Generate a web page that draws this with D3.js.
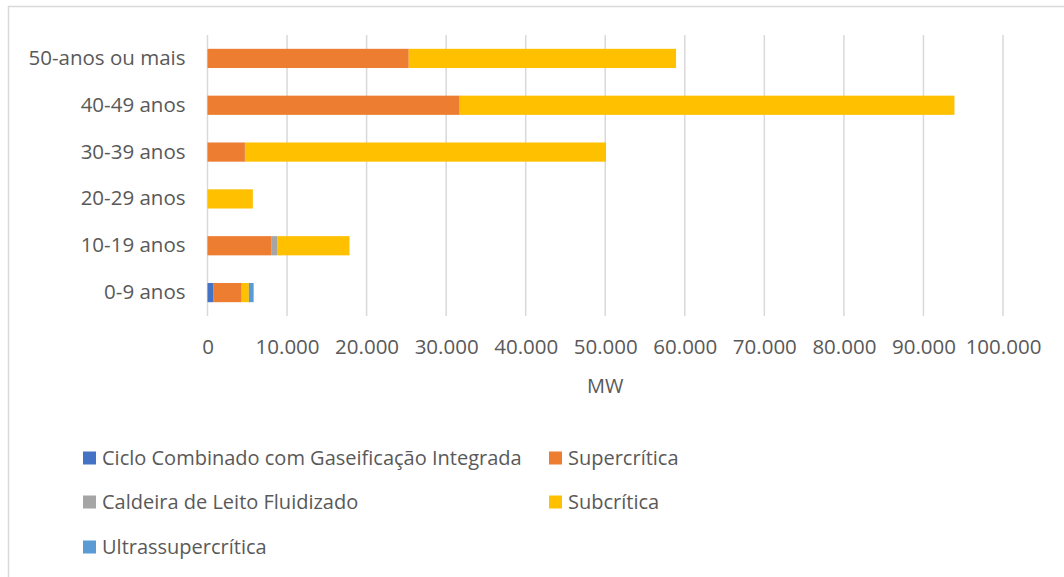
<!DOCTYPE html>
<html>
<head>
<meta charset="utf-8">
<script src="https://cdn.jsdelivr.net/npm/d3@7"></script>
<style>
body { margin:0; background:#fff; }
text { font-family: "Open Sans", sans-serif; fill:#595959; }
</style>
</head>
<body>
<svg id="graph1"></svg>
<script>
var categories= ["0-9 anos","10-19 anos","20-29 anos","30-39 anos","40-49 anos","50-anos ou mais"]
var seriesNames= ["Ciclo Combinado com Gaseificação Integrada","Supercrítica","Caldeira de Leito Fluidizado","Subcrítica","Ultrassupercrítica"]
var seriesColors= ["#4472c4","#ed7d31","#a5a5a5","#ffc000","#5b9bd5"]
// MW per age class, one array per technology (same order as categories)
var igcc=      [700,   0,    0,    0,     0,     0]
var supercrit= [3600,  8000, 0,    4700,  31700, 25300]
var leito=     [0,     750,  0,    100,   0,     0]
var subcrit=   [900,   9100, 5700, 45300, 62200, 33600]
var ultra=     [600,   0,    0,    0,     0,     0]
var xTicks= [0,10000,20000,30000,40000,50000,60000,70000,80000,90000,100000]

var screen= {width:1064, height:577}
var margins= {left:207.5, right:61, top:35, bottom:261}
var graph= {width:screen.width-margins.left-margins.right, height:screen.height-margins.top-margins.bottom}

var svg= d3.select("#graph1").attr("width",screen.width).attr("height",screen.height)

svg.append("rect")
    .attr("x",8.5).attr("y",6.5)
    .attr("width",screen.width).attr("height",screen.height)
    .attr("fill","none").attr("stroke","#d9d9d9").attr("stroke-width",1.5)

var rows= categories.map(function(c,i){
    return {cat:c, values:[igcc[i],supercrit[i],leito[i],subcrit[i],ultra[i]]}
})

var xScale= d3.scaleLinear().domain([0,100000]).range([0,graph.width])
var yScale= d3.scaleBand().domain(categories.slice().reverse()).range([0,graph.height]).paddingInner(0.59).paddingOuter(0.295)

var target= svg.append("g").attr("transform","translate("+margins.left+","+margins.top+")")

// gridlines
target.append("g").selectAll("line")
    .data(xTicks)
    .enter().append("line")
    .attr("x1",function(d){return xScale(d)}).attr("x2",function(d){return xScale(d)})
    .attr("y1",0).attr("y2",graph.height)
    .attr("stroke","#d9d9d9").attr("stroke-width",1.5)

// stacked bars
rows.forEach(function(r){
    var x0= 0
    r.values.forEach(function(v,j){
        if (v>0) {
            target.append("rect")
                .attr("x",xScale(x0))
                .attr("y",yScale(r.cat))
                .attr("width",xScale(x0+v)-xScale(x0))
                .attr("height",yScale.bandwidth())
                .attr("fill",seriesColors[j])
        }
        x0+=v
    })
})

// y labels
var yAxis= d3.axisLeft(yScale).tickSize(0).tickPadding(22)
var ya= target.append("g").call(yAxis)
ya.select(".domain").remove()
ya.selectAll("text").style("font-size","20.5px").attr("fill","#595959").style("font-family","'Open Sans', sans-serif")

// x labels
var xAxis= d3.axisBottom(xScale).tickValues(xTicks).tickSize(0).tickPadding(23)
    .tickFormat(function(d){return d3.format(",")(d).replace(/,/g,".")})
var xa= target.append("g").attr("transform","translate(0,"+graph.height+")").call(xAxis)
xa.select(".domain").remove()
xa.selectAll("text").style("font-size","20.5px").attr("fill","#595959").style("font-family","'Open Sans', sans-serif")

svg.append("text")
    .attr("x",margins.left+graph.width/2).attr("y",393)
    .attr("text-anchor","middle").style("font-size","20px")
    .text("MW")

// legend
var legendPos= [[83,458],[549,458],[83,502],[549,502],[83,547]]
var legend= svg.append("g")
seriesNames.forEach(function(n,i){
    var p= legendPos[i]
    legend.append("rect").attr("x",p[0]).attr("y",p[1]-6.5).attr("width",13).attr("height",13).attr("fill",seriesColors[i])
    legend.append("text").attr("x",p[0]+19).attr("y",p[1]+7).style("font-size","20px").text(n)
})
</script>
</body>
</html>
